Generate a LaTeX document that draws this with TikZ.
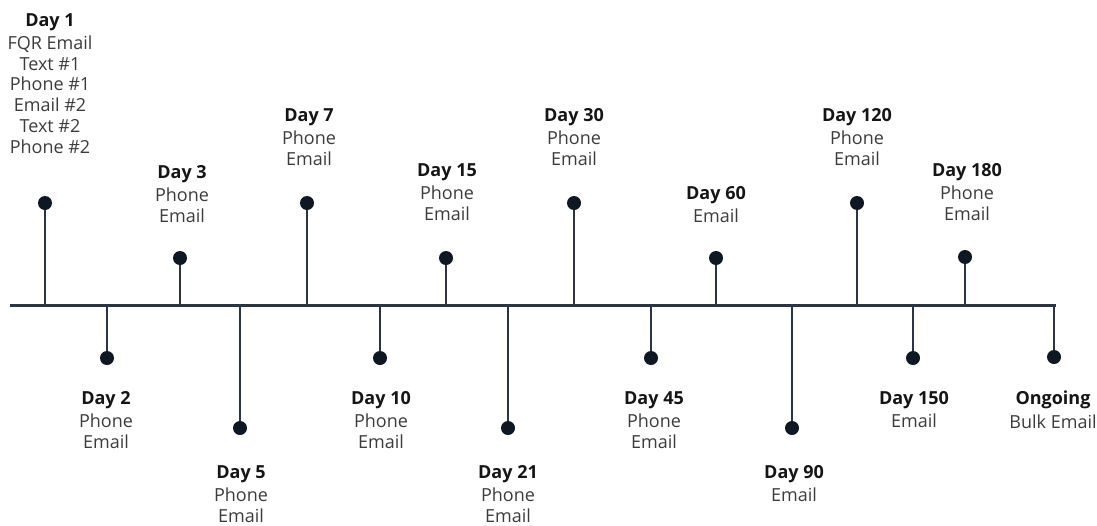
\documentclass[tikz,border=0pt]{standalone}
\usepackage{fontspec}
\setmainfont{Open Sans}
\definecolor{linec}{HTML}{2B3440}
\definecolor{dotc}{HTML}{0F1722}
\definecolor{titlec}{HTML}{151515}
\definecolor{bodyc}{HTML}{3C3C3C}
\newcommand\ttl[1]{{\bfseries\color{titlec}#1}\\[2.5pt]}
\begin{document}
\begin{tikzpicture}[x=1pt,y=-1pt,
  axisline/.style={draw=linec,line width=3pt},
  stem/.style={draw=linec,line width=1.5pt},
  dot/.style={circle,fill=dotc,inner sep=0pt,minimum size=14pt},
  lbl/.style={align=center,inner sep=0pt,anchor=north,text=bodyc,font=\fontsize{18}{20.8}\selectfont}]
\useasboundingbox (0,0) rectangle (1097,525);
\coordinate (aL) at (10,305);
\coordinate (aR) at (1056,305);
\draw[axisline] (aL) -- (aR);
\foreach \n/\x/\y in {d1/45/203,d3/180/258,d7/307/203,d15/446/258,d30/574/203,d60/716/258,d120/857/203,d180/965/257,
                     d2/107/358,d5/240/428,d10/380/358,d21/508/428,d45/651/358,d90/792/428,d150/913/358,dOn/1054/357}{
  \coordinate (f\n) at (\x,305);
  \node[dot] (p\n) at (\x,\y) {};
  \draw[stem] (f\n) -- (p\n);
}
% labels above
\node[lbl] (l1) at (50,13) {\ttl{Day 1}FQR Email\\Text \#1\\Phone \#1\\Email \#2\\Text \#2\\Phone \#2};
\node[lbl] (l3) at (182,165) {\ttl{Day 3}Phone\\Email};
\node[lbl] (l7) at (309,108) {\ttl{Day 7}Phone\\Email};
\node[lbl] (l15) at (447,163) {\ttl{Day 15}Phone\\Email};
\node[lbl] (l30) at (574,108) {\ttl{Day 30}Phone\\Email};
\node[lbl] (l60) at (716,186) {\ttl{Day 60}Email};
\node[lbl] (l120) at (857,108) {\ttl{Day 120}Phone\\Email};
\node[lbl] (l180) at (967,163) {\ttl{Day 180}Phone\\Email};
% labels below
\node[lbl] (l2) at (106,391) {\ttl{Day 2}Phone\\Email};
\node[lbl] (l5) at (241,465) {\ttl{Day 5}Phone\\Email};
\node[lbl] (l10) at (381,391) {\ttl{Day 10}Phone\\Email};
\node[lbl] (l21) at (508,465) {\ttl{Day 21}Phone\\Email};
\node[lbl] (l45) at (654,391) {\ttl{Day 45}Phone\\Email};
\node[lbl] (l90) at (794,465) {\ttl{Day 90}Email};
\node[lbl] (l150) at (914,391) {\ttl{Day 150}Email};
\node[lbl] (lOn) at (1053,391) {\ttl{Ongoing}Bulk Email};
\end{tikzpicture}
\end{document}
